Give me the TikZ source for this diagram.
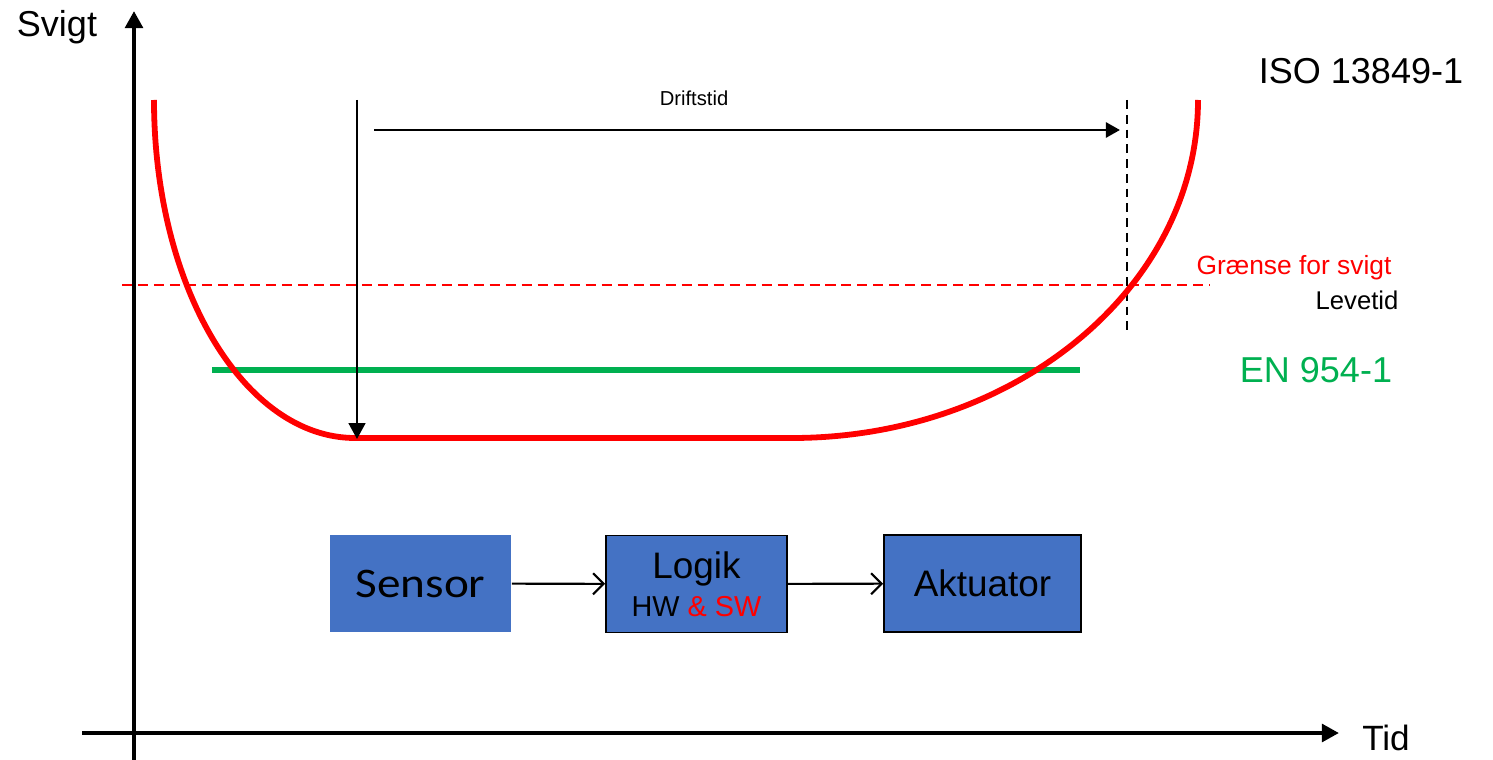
\documentclass[tikz,border=0pt]{standalone}
\usepackage{fontspec}
\setmainfont{Liberation Sans}
\newfontfamily\calibri{Carlito}
\usetikzlibrary{arrows.meta,positioning}
\definecolor{boxblue}{RGB}{68,114,196}
\definecolor{stdgreen}{RGB}{0,176,80}
\tikzset{
  axis/.style={line width=2.8pt,-{Triangle[length=9.8pt,width=10pt]}},
  blok/.style={draw=black,line width=1pt,fill=boxblue,minimum height=1.94cm,inner sep=0pt},
  flow/.style={line width=1.2pt,-{Straight Barb[length=6pt,width=12pt]}},
  badkar/.style={red,line width=3.3pt},
  pil/.style={line width=1.2pt,-{Triangle[length=9pt,width=9.5pt]}},
}
\begin{document}
\begin{tikzpicture}[x=0.02cm,y=-0.02cm]
  \useasboundingbox (0,0) rectangle (1493,760);
  % axes
  \coordinate (origo) at (134,760);
  \coordinate (ytop) at (134,11);
  \coordinate (xstart) at (82,733);
  \coordinate (xend) at (1339,733);
  \draw[axis] (origo) -- (ytop);
  \draw[axis] (xstart) -- (xend);
  \node (svigt) at (57,27) {\fontsize{20.5}{24}\selectfont Svigt};
  \node (tid) at (1386,738) {\fontsize{20}{24}\selectfont Tid};
  \node (iso) at (1361,71) {\fontsize{20.5}{24}\selectfont ISO 13849-1};

  % limit lines
  \coordinate (gl) at (122,285);
  \coordinate (gr) at (1210,285);
  \draw[red,line width=1.1pt,dash pattern=on 5.7pt off 3.4pt] (gl) -- (gr);
  \coordinate (lt) at (1127,100);
  \coordinate (lb) at (1127,330);
  \draw[line width=1.1pt,dash pattern=on 5pt off 3.4pt] (lt) -- (lb);
  \coordinate (el) at (212,370);
  \coordinate (er) at (1080,370);
  \draw[stdgreen,line width=3.4pt] (el) -- (er);

  % bathtub curve
  \draw[badkar] (154,100) .. controls (154,287) and (244,438) .. (355,438)
    -- (792,438) .. controls (1016,438) and (1198,287) .. (1198,100);

  \node[red] (graense) at (1294,268) {\fontsize{15}{18}\selectfont Grænse for svigt};
  \node (levetid) at (1357,300) {\fontsize{14.6}{18}\selectfont Levetid};
  \node[stdgreen] (en) at (1316,370) {\fontsize{20.5}{24}\selectfont EN 954-1};

  % time arrows
  \coordinate (dt) at (357,100);
  \coordinate (db) at (357,439);
  \draw[pil] (dt) -- (db);
  \coordinate (ds) at (374,130);
  \coordinate (de) at (1120,130);
  \draw[pil,line width=1.6pt,-{Triangle[length=8pt,width=8.5pt]}] (ds) -- (de);
  \node (drift) at (694,98) {\fontsize{11.5}{14}\selectfont Driftstid};

  % blocks
  \node[blok,draw=none,minimum width=3.62cm] (sensor) at (420.5,583.5)
    {\scalebox{1.12}[1]{\calibri\fontsize{24}{28}\selectfont Sensor}};
  \node[blok,minimum width=3.62cm,align=center] (logik) at (696.5,584)
    {\fontsize{21}{24}\selectfont Logik\\[5pt]\fontsize{16.4}{19}\selectfont HW \textcolor{red}{\& SW}};
  \node[blok,minimum width=3.94cm] (akt) at (982.5,583.5) {\fontsize{21}{24}\selectfont Aktuator};
  \draw[flow] (sensor) -- (logik);
  \draw[flow] (logik) -- (akt);
\end{tikzpicture}
\end{document}
